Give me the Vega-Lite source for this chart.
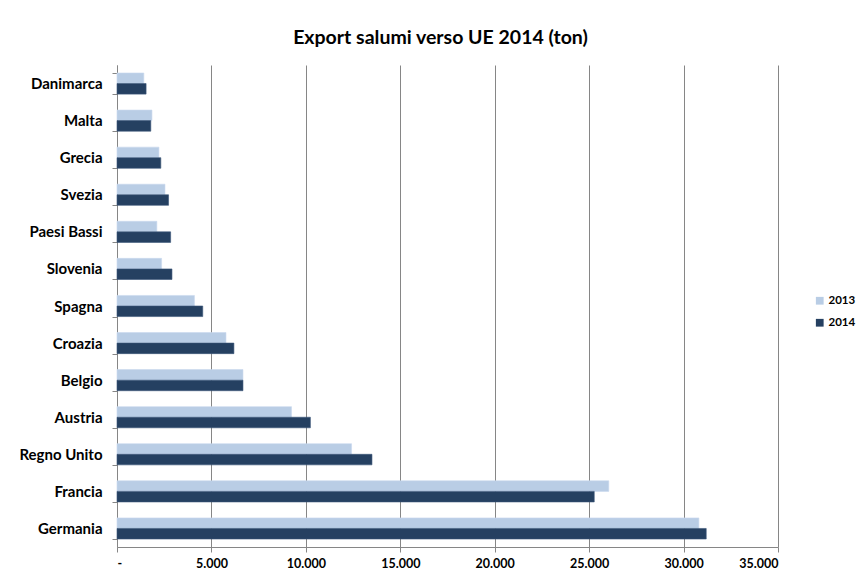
{
  "$schema": "https://vega.github.io/schema/vega-lite/v6.json",
  "width": 661,
  "height": 482,
  "autosize": {"type": "none"},
  "padding": {"left": 117, "top": 65, "right": 82, "bottom": 25},
  "background": "white",
  "title": {
    "text": "Export salumi verso UE 2014 (ton)",
    "font": "Lato",
    "fontSize": 19.5,
    "fontWeight": "bold",
    "color": "#000000",
    "anchor": "middle",
    "dx": -7,
    "offset": 10
  },
  "data": {
    "values": [
      {"country": "Danimarca", "year": "2013", "value": 1420},
      {"country": "Danimarca", "year": "2014", "value": 1540},
      {"country": "Malta", "year": "2013", "value": 1850},
      {"country": "Malta", "year": "2014", "value": 1790},
      {"country": "Grecia", "year": "2013", "value": 2220},
      {"country": "Grecia", "year": "2014", "value": 2320},
      {"country": "Svezia", "year": "2013", "value": 2540},
      {"country": "Svezia", "year": "2014", "value": 2730},
      {"country": "Paesi Bassi", "year": "2013", "value": 2110},
      {"country": "Paesi Bassi", "year": "2014", "value": 2840},
      {"country": "Slovenia", "year": "2013", "value": 2360},
      {"country": "Slovenia", "year": "2014", "value": 2910},
      {"country": "Spagna", "year": "2013", "value": 4100},
      {"country": "Spagna", "year": "2014", "value": 4540},
      {"country": "Croazia", "year": "2013", "value": 5770},
      {"country": "Croazia", "year": "2014", "value": 6190},
      {"country": "Belgio", "year": "2013", "value": 6670},
      {"country": "Belgio", "year": "2014", "value": 6670},
      {"country": "Austria", "year": "2013", "value": 9240},
      {"country": "Austria", "year": "2014", "value": 10240},
      {"country": "Regno Unito", "year": "2013", "value": 12420},
      {"country": "Regno Unito", "year": "2014", "value": 13500},
      {"country": "Francia", "year": "2013", "value": 26040},
      {"country": "Francia", "year": "2014", "value": 25270},
      {"country": "Germania", "year": "2013", "value": 30810},
      {"country": "Germania", "year": "2014", "value": 31200}
    ]
  },
  "mark": {"type": "bar", "strokeWidth": 0.6},
  "encoding": {
    "y": {
      "field": "country",
      "type": "nominal",
      "sort": ["Danimarca", "Malta", "Grecia", "Svezia", "Paesi Bassi", "Slovenia", "Spagna", "Croazia", "Belgio", "Austria", "Regno Unito", "Francia", "Germania"],
      "scale": {"paddingInner": 0.43, "paddingOuter": 0.215},
      "axis": {
        "title": null,
        "tickBand": "extent",
        "tickSize": 5,
        "tickColor": "#868686",
        "domainColor": "#868686",
        "labelFont": "Lato",
        "labelFontSize": 15,
        "labelFontWeight": "bold",
        "labelColor": "#000000",
        "labelPadding": 10
      }
    },
    "yOffset": {
      "field": "year",
      "type": "nominal",
      "sort": ["2013", "2014"],
      "scale": {"paddingInner": 0, "paddingOuter": 0}
    },
    "x": {
      "field": "value",
      "type": "quantitative",
      "scale": {"domain": [0, 35000], "nice": false},
      "axis": {
        "title": null,
        "values": [0, 5000, 10000, 15000, 20000, 25000, 30000, 35000],
        "labelExpr": "datum.value == 0 ? '-' : replace(format(datum.value, ','), ',', '.')",
        "grid": true,
        "gridColor": "#868686",
        "gridWidth": 1,
        "tickSize": 5,
        "tickColor": "#868686",
        "domainColor": "#868686",
        "labelFont": "Lato",
        "labelFontSize": 12.5,
        "labelFontWeight": "bold",
        "labelColor": "#000000",
        "labelPadding": 5
      }
    },
    "color": {
      "field": "year",
      "type": "nominal",
      "scale": {"domain": ["2013", "2014"], "range": ["#b9cde5", "#254061"]},
      "legend": {
        "title": null,
        "orient": "none",
        "legendX": 697,
        "legendY": 230,
        "symbolType": "square",
        "symbolSize": 60,
        "symbolStrokeWidth": 0,
        "rowPadding": 9,
        "labelFont": "Lato",
        "labelFontSize": 11.5,
        "labelFontWeight": "bold",
        "labelColor": "#000000",
        "labelOffset": 3
      }
    },
    "stroke": {
      "field": "year",
      "type": "nominal",
      "scale": {"domain": ["2013", "2014"], "range": ["#c9d9ee", "#3b5579"]},
      "legend": null
    }
  },
  "config": {
    "view": {"stroke": null},
    "axis": {"gridOpacity": 1}
  }
}
